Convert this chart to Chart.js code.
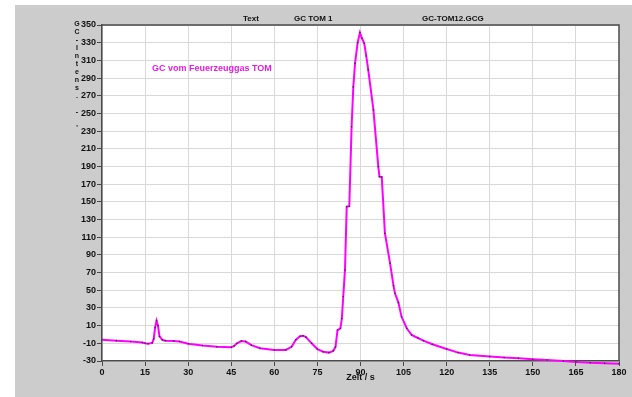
<!DOCTYPE html>
<html>
<head>
<meta charset="utf-8">
<script src="https://cdn.jsdelivr.net/npm/chart.js@4/dist/chart.umd.min.js"></script>
<style>
  html, body { margin: 0; padding: 0; background: #fff; }
  #wrap { width: 632px; height: 397px; }
</style>
</head>
<body>
<div id="wrap"><canvas id="gcChart" width="632" height="397"></canvas></div>
<script>
//DATA
// time in s
const timeS = [0, 5, 10, 14, 15, 16, 17.5, 18, 18.5, 19, 19.5, 20, 21, 22, 25, 27, 30, 35, 40, 45,
    46, 47, 48.5, 50, 52, 55, 60, 64, 66, 67.5, 69, 70, 71, 73, 75, 77, 79, 80.5, 81.3, 82,
    83, 83.5, 84, 84.6, 85.2, 86.1, 86.9, 87.5, 88.1, 89, 89.8, 90.5, 91.3, 92, 92.7, 94.5, 96.2, 96.6, 97.4, 98.5,
    100.3, 101.5, 102, 103.2, 104.3, 106.1, 107.8, 110, 111.9, 115, 120, 124, 128, 135, 140, 145, 150, 155, 160.6, 165,
    170, 175, 180, 184];
// GC intensity
const intensity = [-6, -7, -8, -9, -10, -10.5, -9.5, -5, 8, 15.6, 10, -2, -6, -7, -7.5, -8, -10.5, -12.5, -14, -14.5,
    -13, -10, -7.5, -8, -12, -15.5, -17.5, -17.5, -14, -6, -2, -1.4, -3, -10, -16.5, -19.5, -20.5, -18.5, -14, 5,
    7, 18, 43, 73, 144.5, 145, 235, 280, 306.7, 330, 341.4, 335, 329.4, 315, 299.2, 254, 189.8, 178.5, 178, 114.5,
    80.5, 55, 46.6, 36, 20, 7, -0.6, -4, -7, -11, -16.4, -20.5, -23.2, -25, -26, -27, -28.1, -29, -30, -31,
    -32, -32.5, -33, -34];

//tick labels
const xTicks = [0, 15, 30, 45, 60, 75, 90, 105, 120, 135, 150, 165, 180];
const yTicks = [-30, -10, 10, 30, 50, 70, 90, 110, 130, 150, 170, 190, 210, 230, 250, 270, 290, 310, 330, 350];
const yTitleChars = ['G', 'C', '-', 'I', 'n', 't', 'e', 'n', 's', '.', '', '-', '', "'"];

const tickFont = { family: 'Liberation Sans', size: 9, weight: 'bold' };

//plugin: gray panel, frame and the loose texts
const panelPlugin = {
    id: 'panel',
    beforeDraw(chart) {
        const ctx = chart.ctx;
        const a = chart.chartArea;
        ctx.save();
        ctx.fillStyle = '#fff';
        ctx.fillRect(0, 0, chart.width, chart.height);
        ctx.fillStyle = '#cccccc';
        ctx.fillRect(15, 5, chart.width - 15, chart.height - 5);
        ctx.fillStyle = '#fff';
        ctx.fillRect(a.left, a.top, a.right - a.left, a.bottom - a.top);
        ctx.restore();
    },
    afterDraw(chart) {
        const ctx = chart.ctx;
        const a = chart.chartArea;
        ctx.save();
        // top and right frame
        ctx.strokeStyle = '#4a4a4a';
        ctx.lineWidth = 1.5;
        ctx.beginPath();
        ctx.moveTo(a.left, a.top);
        ctx.lineTo(a.right, a.top);
        ctx.lineTo(a.right, a.bottom);
        ctx.stroke();
        // header
        ctx.fillStyle = '#111';
        ctx.font = 'bold 8px "Liberation Sans"';
        ctx.textBaseline = 'middle';
        ctx.textAlign = 'left';
        ctx.fillText('Text', 243, 19);
        ctx.fillText('GC TOM 1', 294, 19);
        ctx.fillText('GC-TOM12.GCG', 422, 19);
        // x title
        ctx.font = 'bold 9px "Liberation Sans"';
        ctx.textAlign = 'center';
        ctx.fillText('Zeit / s', chart.scales.x.getPixelForValue(90), 378);
        // y title, one letter per line
        ctx.font = 'bold 7px "Liberation Sans"';
        yTitleChars.forEach((c, i) => ctx.fillText(c, 77, 24 + i * 8));
        // note
        ctx.fillStyle = '#e01ee0';
        ctx.font = 'bold 9px "Liberation Sans"';
        ctx.textAlign = 'left';
        ctx.fillText('GC vom Feuerzeuggas TOM', 152, 69);
        ctx.restore();
    }
};

const dataGC = {
    datasets: [{
        data: timeS.map((t, i) => ({ x: t, y: intensity[i] })),
        borderColor: '#ff00ff',
        borderWidth: 2,
        pointRadius: 0.8,
        pointBackgroundColor: '#333',
        pointBorderWidth: 0,
        tension: 0,
        clip: false,
    }]
};

const optionGC = {
    responsive: false,
    animation: false,
    layout: { padding: { left: 0, top: 25, right: 13, bottom: 0 } },
    plugins: {
        legend: { display: false },
        title: { display: false },
        tooltip: { enabled: false }
    },
    scales: {
        x: {
            type: 'linear',
            min: 0,
            max: 180,
            afterBuildTicks: s => { s.ticks = xTicks.map(v => ({ value: v })); },
            afterFit: s => { s.height = 36; },
            grid: { color: '#d9d9d9', tickColor: '#4a4a4a', tickLength: 5 },
            border: { color: '#4a4a4a', width: 1.5 },
            ticks: { color: '#111', font: tickFont, padding: 1, maxRotation: 0, autoSkip: false }
        },
        y: {
            type: 'linear',
            min: -30,
            max: 350,
            afterBuildTicks: s => { s.ticks = yTicks.map(v => ({ value: v })); },
            afterFit: s => { s.width = 102; },
            grid: { color: '#d9d9d9', tickColor: '#4a4a4a', tickLength: 5 },
            border: { color: '#4a4a4a', width: 1.5 },
            ticks: { color: '#111', font: tickFont, padding: 1, autoSkip: false }
        }
    }
};

const configGC = {
    type: 'line',
    data: dataGC,
    options: optionGC,
    plugins: [panelPlugin]
};

const gcChart = new Chart(
    document.getElementById('gcChart').getContext('2d'),
    configGC
);
</script>
</body>
</html>
